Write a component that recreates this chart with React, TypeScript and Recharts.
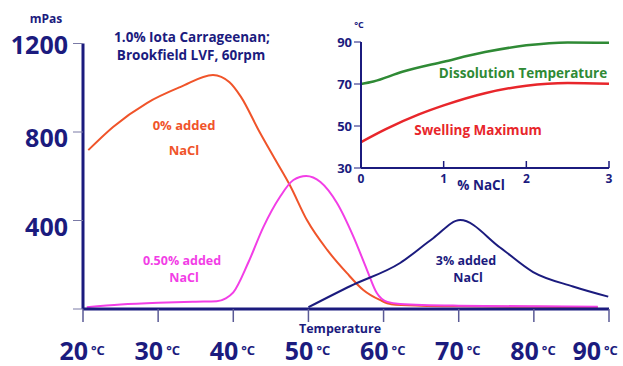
import { LineChart, Line, XAxis, YAxis } from "recharts";

const NAVY = "#1b1b7e";
const ORANGE = "#f0542a";
const MAGENTA = "#f23ee6";
const GREEN = "#2f8a35";
const RED = "#e8262b";
const FONT = "'Open Sans', 'DejaVu Sans', sans-serif";

// main chart: viscosity (mPas) vs temperature (°C)
const tempTicks = [20, 30, 40, 50, 60, 70, 80, 90];
const viscTicks = [0, 400, 800, 1200];

const noSaltTemp = [20.7, 24, 28.5, 33, 37.3, 39.5, 41, 43.5, 45.5, 47.6, 49.8, 52.5, 55.1, 57.3, 59.5, 61, 65, 70, 80, 88.5];
const noSaltVisc = [718, 823, 931, 1004, 1058, 1025, 960, 800, 680, 555, 402, 267, 163, 86, 41, 22, 15, 12, 10, 8];

const halfSaltTemp = [20.5, 25, 30, 35, 37.8, 39, 40, 42, 44, 46.2, 48, 49.7, 51.6, 53.8, 56, 57.8, 59.1, 60.5, 62.2, 70, 80, 88.5];
const halfSaltVisc = [8, 20, 28, 33, 35, 48, 75, 210, 370, 506, 583, 601, 574, 479, 326, 176, 72, 32, 23, 15, 12, 10];

const threeSaltTemp = [50, 55.6, 62.2, 66.6, 70.2, 75.5, 79.9, 85.2, 89.9];
const threeSaltVisc = [8, 104, 208, 320, 402, 278, 167, 102, 56];

// inset: temperature vs % NaCl
const naclTicks = [0, 1, 2, 3];
const insetTempTicks = [30, 50, 70, 90];
const naclPct = [0, 0.15, 0.5, 1, 1.5, 2, 2.5, 3];
const dissolutionTemp = [70, 71.2, 75.8, 80.6, 85.2, 88.4, 89.8, 89.6];
const swellingPct = [0, 0.3, 0.7, 1, 1.5, 2, 2.5, 3];
const swellingTemp = [42.3, 48.5, 55.5, 59.8, 65.6, 69.2, 70.5, 70.1];

const rows = (xs: number[], ys: number[]) => xs.map((x, i) => ({ x, y: ys[i] }));

function TempTick({ x, y, payload }: any) {
  const shift = payload.value === 90 ? -13 : 0;
  return (
    <g fontFamily={FONT} fontWeight={700} fill={NAVY}>
      <text x={x + 5 + shift} y={y + 36} textAnchor="end" fontSize={25}>
        {payload.value}
      </text>
      <text x={x + 8 + shift} y={y + 31} fontSize={13}>
        °C
      </text>
    </g>
  );
}

function ViscTick({ x, y, payload }: any) {
  if (payload.value === 0) return null;
  const dy = payload.value === 1200 ? 10 : 15;
  return (
    <text x={x - 3} y={y + dy} textAnchor="end" fontFamily={FONT} fontWeight={700} fontSize={25} fill={NAVY}>
      {payload.value}
    </text>
  );
}

// tick mark pointing up into the inset plot, label under the axis
function NaclTick({ x, y, payload }: any) {
  return (
    <g>
      {payload.value !== 0 && <line x1={x} x2={x} y1={y - 7} y2={y} stroke={NAVY} strokeWidth={1.5} />}
      <text x={x} y={y + 15} textAnchor="middle" fontFamily={FONT} fontWeight={700} fontSize={12} fill={NAVY}>
        {payload.value}
      </text>
    </g>
  );
}

function InsetTempTick({ x, y, payload }: any) {
  return (
    <text x={x - 1} y={y + 5} textAnchor="end" fontFamily={FONT} fontWeight={700} fontSize={13} fill={NAVY}>
      {payload.value}
    </text>
  );
}

export default function App() {
  return (
    <div style={{ position: "absolute", left: 0, top: 0, width: 623, height: 366, background: "#fff" }}>
      <div style={{ position: "absolute", left: 0, top: 0 }}>
        <LineChart width={623} height={366} margin={{ top: 43.5, right: 14, bottom: 0, left: 0 }}>
          <XAxis
            dataKey="x"
            type="number"
            domain={[20, 90]}
            ticks={tempTicks}
            height={57}
            tickSize={13}
            tickMargin={2}
            axisLine={{ stroke: NAVY, strokeWidth: 3 }}
            tickLine={{ stroke: "#5a5a96", strokeWidth: 1.5 }}
            tick={<TempTick />}
          />
          <YAxis
            type="number"
            domain={[0, 1200]}
            ticks={viscTicks}
            width={83}
            tickSize={10}
            tickMargin={2}
            axisLine={{ stroke: NAVY, strokeWidth: 3 }}
            tickLine={{ stroke: "#7a7aa6", strokeWidth: 1 }}
            tick={<ViscTick />}
          />
          <Line data={rows(noSaltTemp, noSaltVisc)} dataKey="y" type="monotone" stroke={ORANGE} strokeWidth={2} dot={false} isAnimationActive={false} />
          <Line data={rows(halfSaltTemp, halfSaltVisc)} dataKey="y" type="monotone" stroke={MAGENTA} strokeWidth={2} dot={false} isAnimationActive={false} />
          <Line data={rows(threeSaltTemp, threeSaltVisc)} dataKey="y" type="monotone" stroke={NAVY} strokeWidth={2} dot={false} isAnimationActive={false} />
        </LineChart>
      </div>

      <div style={{ position: "absolute", left: 330, top: 10 }}>
        <LineChart width={293} height={190} margin={{ top: 32, right: 14, bottom: 0, left: 0 }}>
          <XAxis
            dataKey="x"
            type="number"
            domain={[0, 3]}
            ticks={naclTicks}
            height={32}
            tickSize={0}
            tickMargin={0}
            tickLine={false}
            axisLine={{ stroke: NAVY, strokeWidth: 2 }}
            tick={<NaclTick />}
          />
          <YAxis
            type="number"
            domain={[30, 90]}
            ticks={insetTempTicks}
            width={31}
            tickSize={7}
            tickMargin={1}
            axisLine={{ stroke: NAVY, strokeWidth: 2 }}
            tickLine={{ stroke: NAVY, strokeWidth: 1 }}
            tick={<InsetTempTick />}
          />
          <Line data={rows(naclPct, dissolutionTemp)} dataKey="y" type="monotone" stroke={GREEN} strokeWidth={2.5} dot={false} isAnimationActive={false} />
          <Line data={rows(swellingPct, swellingTemp)} dataKey="y" type="monotone" stroke={RED} strokeWidth={2.5} dot={false} isAnimationActive={false} />
        </LineChart>
      </div>

      <svg width={623} height={366} style={{ position: "absolute", left: 0, top: 0, pointerEvents: "none" }} fontFamily={FONT} fontWeight={700}>
        <text x={46} y={23} textAnchor="middle" fontSize={12} fill={NAVY}>mPas</text>
        <text x={192} y={42} textAnchor="middle" fontSize={13.5} fill={NAVY}>1.0% Iota Carrageenan;</text>
        <text x={191} y={60} textAnchor="middle" fontSize={13.5} fill={NAVY}>Brookfield LVF, 60rpm</text>
        <text x={299} y={333} fontSize={12.5} fill={NAVY}>Temperature</text>

        <text x={184} y={130} textAnchor="middle" fontSize={13} fill={ORANGE}>0% added</text>
        <text x={184} y={155} textAnchor="middle" fontSize={13} fill={ORANGE}>NaCl</text>
        <text x={182} y={265} textAnchor="middle" fontSize={12.5} fill={MAGENTA}>0.50% added</text>
        <text x={184} y={282} textAnchor="middle" fontSize={12.5} fill={MAGENTA}>NaCl</text>
        <text x={466} y={265} textAnchor="middle" fontSize={12.5} fill={NAVY}>3% added</text>
        <text x={468} y={282} textAnchor="middle" fontSize={12.5} fill={NAVY}>NaCl</text>

        <text x={359} y={28} textAnchor="middle" fontSize={9} fill={NAVY}>°C</text>
        <text x={481} y={190} textAnchor="middle" fontSize={13.5} fill={NAVY}>% NaCl</text>
        <text x={523} y={78} textAnchor="middle" fontSize={13.5} fill={GREEN}>Dissolution Temperature</text>
        <text x={478} y={135} textAnchor="middle" fontSize={13.5} fill={RED}>Swelling Maximum</text>
      </svg>
    </div>
  );
}
